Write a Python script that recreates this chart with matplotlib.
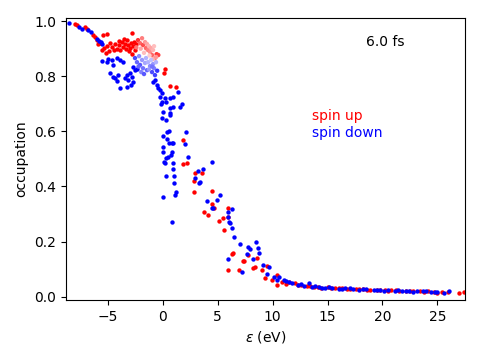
import numpy as np
import matplotlib
matplotlib.use("Agg")
import matplotlib.pyplot as plt

# spin up (red)
e_up = [-7.97, -7.76, -7.06, -6.91, -6.31, -6.15, -6.0, -5.88, -5.7, -5.45, -5.09, -5.55, -5.34,
        -5.06, -4.79, -4.61, -4.34, -4.15, -3.97, -3.88, -3.7, -3.61, -3.43, -3.34, -3.25, -3.15,
        -2.82, -2.97, -2.88, -2.7, -2.61, -2.52, -2.43, -5.2, -4.9, -4.45, -4.0, -3.5, -3.05, -2.75,
        0.21, 0.12, 0.66, 1.21, 1.85, 1.82, 2.18, 2.94, 3.55, 2.85, 2.85, 4.45, 4.51, 4.66, 3.78,
        4.15, 5.96, 5.51, 5.15, 5.91, 5.6, 6.27, 6.36, 5.91, 6.96, 7.27, 7.42, 7.78, 8.18, 8.39,
        8.6, 9.0, 9.45, 9.3, 9.91, 10.36, 10.42,
        10.9, 11.5, 12.0, 12.6, 13.1, 13.8, 14.4, 15.0, 15.7, 16.3, 17.0, 17.6, 18.2, 18.9, 19.5,
        20.2, 20.8, 21.5, 22.1, 22.8, 23.4, 24.1, 24.7, 25.4, 26.0, 26.96, 27.4,
        11.2, 12.3, 13.4, 14.1, 15.3, 16.0, 16.8, 17.9, 18.6, 19.8, 20.5, 21.2, 22.5, 23.8, 25.0]
occ_up = [0.989, 0.985, 0.977, 0.973, 0.949, 0.941, 0.931, 0.917, 0.919, 0.949, 0.953, 0.895, 0.902,
          0.909, 0.920, 0.906, 0.917, 0.898, 0.913, 0.895, 0.924, 0.906, 0.917, 0.898, 0.931, 0.913,
          0.958, 0.902, 0.920, 0.909, 0.924, 0.895, 0.917, 0.885, 0.890, 0.895, 0.928, 0.935, 0.890, 0.880,
          0.828, 0.812, 0.764, 0.761, 0.568, 0.482, 0.485, 0.450, 0.449, 0.421, 0.380, 0.384, 0.335, 0.322, 0.308,
          0.297, 0.321, 0.284, 0.276, 0.288, 0.242, 0.155, 0.160, 0.097, 0.097, 0.131, 0.131, 0.151, 0.103, 0.109,
          0.141, 0.097, 0.111, 0.067, 0.061, 0.079, 0.042,
          0.055, 0.052, 0.048, 0.041, 0.038, 0.036, 0.033, 0.034, 0.031, 0.030, 0.028, 0.029, 0.027, 0.025, 0.026,
          0.023, 0.024, 0.022, 0.020, 0.021, 0.019, 0.020, 0.018, 0.017, 0.016, 0.012, 0.018,
          0.046, 0.043, 0.037, 0.035, 0.032, 0.031, 0.029, 0.027, 0.026, 0.024, 0.022, 0.023, 0.019, 0.018, 0.015]

# spin down (blue)
e_dn = [-8.52, -7.61, -7.31, -6.76, -6.55, -6.0, -5.76, -5.64, -5.52, -5.55, -4.95, -5.09, -3.88, -3.58,
        -4.79, -4.49, -4.34, -4.18, -4.04, -3.88, -3.27, -3.43, -3.27, -3.13, -2.97, -2.82, -2.73, -2.52,
        -2.67, -2.36, -2.91, -4.61, -4.15, -4.52,
        -0.85, -0.55, -0.4, -0.25, -0.7, -0.09, -0.25, -0.09, 0.21, 0.66, 0.94, 1.42, -0.15, 0.3, 0.66,
        0.96, 1.57, 1.73, 0.05, 0.66, 0.66, -0.06, 0.3, 0.42, 0.57, 0.05, 0.36, 0.57, 0.82, 0.96, 0.05,
        0.05, 0.82, 0.73, 0.51, 0.3, 0.21, 0.15, 0.91, 0.91, 1.03, 0.27, 1.03, 1.21, 1.12, 0.0, 0.82,
        2.12, 2.03, 2.33, 4.51, 3.24, 3.64, 2.94, 3.39, 4.0, 4.91, 5.21, 4.45, 6.27, 5.96, 6.03, 6.12,
        6.33, 6.51, 7.03, 7.78, 3.33, 4.6, 5.91, 7.94, 8.48, 8.64, 8.75, 7.64, 5.91, 8.24, 7.18, 9.15,
        9.69, 9.45, 10.15, 10.6, 10.42, 11.03,
        11.2, 11.8, 12.3, 12.9, 13.3, 13.6, 14.2, 14.8, 15.4, 16.0, 16.6, 17.3, 17.9, 18.5, 19.2, 19.8,
        20.5, 21.1, 21.8, 22.4, 23.1, 23.7, 24.4, 25.0, 25.6, 26.1,
        11.5, 12.6, 13.9, 14.5, 15.1, 16.3, 17.0, 18.2, 19.5, 20.1, 21.4, 22.1, 22.8, 24.0, 24.8]
occ_dn = [0.994, 0.977, 0.970, 0.967, 0.959, 0.934, 0.927, 0.923, 0.917, 0.856, 0.861, 0.852, 0.859, 0.852,
          0.812, 0.798, 0.792, 0.783, 0.804, 0.756, 0.760, 0.792, 0.804, 0.786, 0.810, 0.798, 0.780, 0.822,
          0.834, 0.828, 0.768, 0.859, 0.866, 0.841,
          0.780, 0.768, 0.756, 0.750, 0.786, 0.738, 0.725, 0.707, 0.720, 0.720, 0.725, 0.744, 0.699, 0.707, 0.683,
          0.687, 0.687, 0.699, 0.671, 0.667, 0.659, 0.647, 0.643, 0.598, 0.602, 0.583, 0.571, 0.559, 0.556, 0.556, 0.544,
          0.524, 0.526, 0.514, 0.506, 0.502, 0.484, 0.490, 0.486, 0.463, 0.439, 0.438, 0.413, 0.381, 0.369, 0.361, 0.272,
          0.598, 0.553, 0.508, 0.487, 0.456, 0.462, 0.429, 0.417, 0.347, 0.351, 0.369, 0.321, 0.317, 0.306, 0.270, 0.266,
          0.248, 0.218, 0.190, 0.181, 0.413, 0.321, 0.290, 0.173, 0.199, 0.176, 0.160, 0.155, 0.136, 0.136, 0.091, 0.115,
          0.109, 0.081, 0.070, 0.070, 0.061, 0.061,
          0.058, 0.050, 0.044, 0.039, 0.050, 0.035, 0.034, 0.032, 0.031, 0.029, 0.030, 0.027, 0.026, 0.027, 0.024, 0.023,
          0.025, 0.021, 0.022, 0.020, 0.019, 0.021, 0.017, 0.016, 0.014, 0.021,
          0.053, 0.045, 0.038, 0.033, 0.036, 0.028, 0.031, 0.029, 0.025, 0.022, 0.023, 0.019, 0.018, 0.020, 0.016]

# mixed-spin states, coloured by polarisation (-1 down ... +1 up)
e_mix = [-2.25, -2.06, -1.88, -1.79, -1.61, -1.52, -1.43, -1.34, -1.25, -1.15, -1.06, -0.97, -0.88,
         -0.79, -0.7, -0.55, -0.4, -2.4, -2.0, -1.7, -1.2, -0.9, -0.6,
         -2.52, -2.34, -2.15, -2.06, -1.88, -1.79, -1.61, -1.52, -1.43, -1.34, -1.15, -1.06, -0.97,
         -0.88, -0.79, -0.7, -0.61, -2.2, -1.95, -1.7, -1.25, -0.95, -0.5]
occ_mix = [0.931, 0.920, 0.938, 0.913, 0.924, 0.902, 0.917, 0.895, 0.909, 0.888, 0.902, 0.877, 0.895,
           0.909, 0.866, 0.880, 0.877, 0.905, 0.900, 0.885, 0.875, 0.862, 0.870,
           0.866, 0.851, 0.873, 0.841, 0.859, 0.829, 0.848, 0.866, 0.822, 0.851, 0.837, 0.859, 0.815,
           0.844, 0.829, 0.804, 0.851, 0.835, 0.815, 0.808, 0.825, 0.835, 0.820]
pol_mix = [0.8, 0.6, 0.5, 0.7, 0.4, 0.6, 0.35, 0.5, 0.3, 0.45, 0.35, 0.6, 0.3,
           0.25, 0.5, 0.8, 0.75, 0.55, 0.35, 0.25, 0.2, 0.3, 0.4,
           -0.7, -0.6, -0.45, -0.65, -0.4, -0.55, -0.35, -0.3, -0.6, -0.3, -0.45, -0.25, -0.7,
           -0.4, -0.5, -0.75, -0.3, -0.6, -0.5, -0.65, -0.4, -0.55, -0.8]

fig = plt.figure(figsize=(4.8, 3.6), dpi=100)
ax = fig.add_axes([0.1375, 0.1667, 0.831, 0.783])

ax.scatter(e_up, occ_up, s=10, color='red', linewidths=0)
ax.scatter(e_dn, occ_dn, s=10, color='blue', linewidths=0)
ax.scatter(e_mix, occ_mix, s=10, c=pol_mix, cmap='bwr', vmin=-1, vmax=1, linewidths=0)

ax.set_xlim(-8.8, 27.5)
ax.set_ylim(-0.012, 1.011)
ax.set_xlabel(r'$\epsilon$ (eV)')
ax.set_ylabel('occupation')

ax.text(0.752, 0.915, '6.0 fs', transform=ax.transAxes, va='center')
ax.text(0.617, 0.652, 'spin up', color='red', transform=ax.transAxes, va='center')
ax.text(0.617, 0.592, 'spin down', color='blue', transform=ax.transAxes, va='center')

fig.savefig('out.png', dpi=100)
